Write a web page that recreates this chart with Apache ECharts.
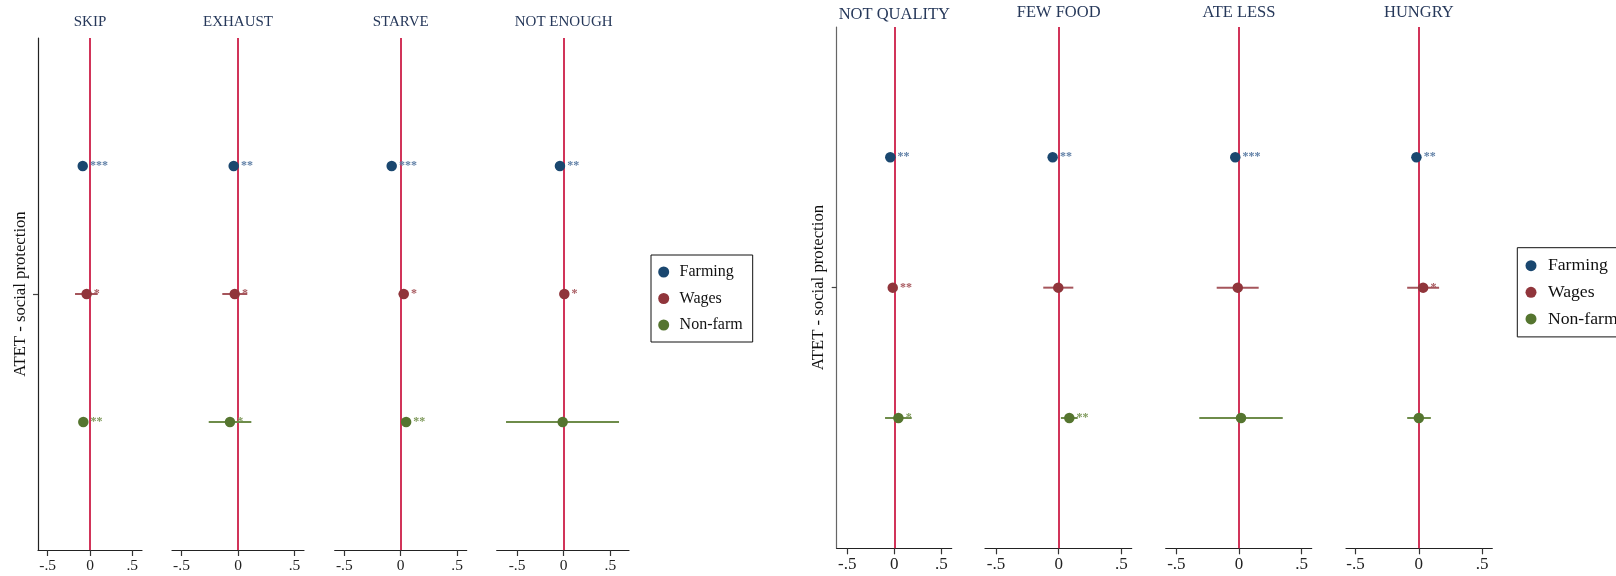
<!DOCTYPE html>
<html><head><meta charset="utf-8">
<script src="https://cdn.jsdelivr.net/npm/echarts@6/dist/echarts.min.js"></script>
<style>html,body{margin:0;padding:0;background:#fff}#c{width:1616px;height:576px}</style>
</head><body><div id="c"></div>
<script>
// ---------- data ----------
const panels = ['SKIP','EXHAUST','STARVE','NOT ENOUGH','NOT QUALITY','FEW FOOD','ATE LESS','HUNGRY'];
const groups = ['Farming','Wages','Non-farm'];
const groupPos = [3, 2, 1];
const farmingEst   = [-0.086,-0.038,-0.080,-0.040,-0.043,-0.048,-0.030,-0.019];
const farmingLo    = [-0.110,-0.062,-0.104,-0.064,-0.066,-0.070,-0.052,-0.040];
const farmingHi    = [-0.062,-0.014,-0.056,-0.016,-0.020,-0.026,-0.008, 0.002];
const farmingStars = ['***','**','***','**','**','**','***','**'];
const wagesEst     = [-0.040,-0.029, 0.027, 0.007,-0.017,-0.003,-0.010, 0.034];
const wagesLo      = [-0.177,-0.139,-0.018,-0.015,-0.040,-0.123,-0.178,-0.092];
const wagesHi      = [ 0.091, 0.082, 0.065, 0.030, 0.006, 0.117, 0.157, 0.160];
const wagesStars   = ['*','*','*','*','**','','','*'];
const nonfarmEst   = [-0.079,-0.071, 0.048,-0.011, 0.043, 0.085, 0.016, 0.000];
const nonfarmLo    = [-0.100,-0.259, 0.025,-0.618,-0.099, 0.018,-0.317,-0.092];
const nonfarmHi    = [-0.058, 0.118, 0.072, 0.593, 0.185, 0.152, 0.349, 0.095];
const nonfarmStars = ['**','*','**','','*','**','',''];
const xMin = [-0.615,-0.584,-0.585,-0.718,-0.613,-0.588,-0.585,-0.575];
const xMax = [ 0.615, 0.584, 0.585, 0.700, 0.610, 0.583, 0.580, 0.580];
const xTicks = [-0.5, 0, 0.5];
const xTickLabels = ['-.5','0','.5'];
const refLine = 0;
const yTitle = 'ATET - social protection';

// ---------- styling / layout ----------
const FONT = "'Liberation Serif','Times New Roman',serif";
const markerColors = ['#1a476f','#90353b','#55752f'];
const ciColors     = ['#3d6187','#a5555b','#6e8c4a'];
const starColors   = ['#5f7fa6','#a85a60','#7f9a5c'];
const grids = [
  {left:38,    top:38, width:104,   height:512},
  {left:172,   top:38, width:132,   height:512},
  {left:334.7, top:38, width:132,   height:512},
  {left:496.7, top:38, width:132.3, height:512},
  {left:836.7, top:27, width:115,   height:521.3},
  {left:985,   top:27, width:146.7, height:521.3},
  {left:1165.7,top:27, width:146,   height:521.3},
  {left:1346,  top:27, width:146.3, height:521.3}
];
const est = [farmingEst, wagesEst, nonfarmEst];
const lo = [farmingLo, wagesLo, nonfarmLo];
const hi = [farmingHi, wagesHi, nonfarmHi];
const stars = [farmingStars, wagesStars, nonfarmStars];

const xAxis = [], yAxis = [], series = [], titles = [];
panels.forEach((p, i) => {
  const right = i >= 4;
  const first = i === 0 || i === 4;
  xAxis.push({
    gridIndex: i, type: 'value', min: xMin[i], max: xMax[i],
    axisLine: {show: true, onZero: false, lineStyle: {color: '#222', width: 1.2}},
    axisTick: {show: true, customValues: xTicks, length: 6, lineStyle: {color: '#333', width: 1.2}},
    axisLabel: {show: true, customValues: xTicks, margin: 8,
      formatter: v => xTickLabels[xTicks.indexOf(v)] ?? '',
      fontFamily: FONT, fontSize: right ? 17 : 15.5, color: '#222'},
    splitLine: {show: false}
  });
  yAxis.push({
    gridIndex: i, type: 'value', min: 0, max: 4,
    axisLine: {show: first, onZero: false, lineStyle: {color: right ? '#666' : '#222', width: 1.2}},
    axisTick: {show: first, customValues: [2], length: 5, lineStyle: {color: '#444', width: 1.2}},
    axisLabel: {show: false},
    splitLine: {show: false},
    name: first ? yTitle : '',
    nameLocation: 'middle', nameGap: right ? 9.5 : 8.6,
    nameTextStyle: {fontFamily: FONT, fontSize: 16.7, color: '#111'}
  });
  titles.push({
    text: p, left: grids[i].left + (0 - xMin[i]) / (xMax[i] - xMin[i]) * grids[i].width,
    top: right ? (i === 4 ? 6 : 4) : 14.5, textAlign: 'center', padding: 0,
    textStyle: {fontFamily: FONT, fontSize: right ? 16.5 : 15, fontWeight: 'normal', color: '#26385a'}
  });
  groups.forEach((g, k) => {
    series.push({
      type: 'custom', name: g + ' CI', xAxisIndex: i, yAxisIndex: i, z: 2, silent: true,
      data: [[lo[k][i], hi[k][i], groupPos[k]]],
      encode: {x: [0, 1], y: 2},
      renderItem: (params, api) => {
        const a = api.coord([api.value(0), api.value(2)]);
        const b = api.coord([api.value(1), api.value(2)]);
        return {type: 'line', shape: {x1: a[0], y1: a[1], x2: b[0], y2: b[1]},
          style: {stroke: ciColors[k], lineWidth: 2}};
      }
    });
    const s = {
      type: 'scatter', name: g, xAxisIndex: i, yAxisIndex: i, z: 4,
      symbol: 'circle', symbolSize: 10.5,
      itemStyle: {color: markerColors[k], opacity: 1},
      data: [[est[k][i], groupPos[k], stars[k][i]]],
      label: {show: true, position: 'right', distance: 2,
        formatter: q => q.data[2], fontFamily: FONT, fontSize: 12, fontWeight: 'bold', color: starColors[k]},
      emphasis: {disabled: true}
    };
    if (k === 0) {
      s.markLine = {silent: true, symbol: 'none', z: 1, label: {show: false},
        lineStyle: {color: '#cc1e47', width: 1.8, type: 'solid'},
        data: [{xAxis: refLine}]};
    }
    series.push(s);
  });
});

const legendBase = {orient: 'vertical', icon: 'circle', borderColor: '#111', borderWidth: 1,
  backgroundColor: '#fff', selectedMode: false, data: groups};
const option = {
  animation: false,
  backgroundColor: '#fff',
  title: titles,
  grid: grids,
  xAxis, yAxis, series,
  legend: [
    Object.assign({}, legendBase, {left: 651, top: 255, itemWidth: 21.8, itemHeight: 11, itemGap: 8.5,
      padding: [8, 10, 8, 7.2], textStyle: {fontFamily: FONT, fontSize: 16, color: '#111', lineHeight: 18}}),
    Object.assign({}, legendBase, {left: 1517.3, top: 247.7, itemWidth: 23.8, itemHeight: 11, itemGap: 6.6,
      padding: [8, 10, 8, 8.2], textStyle: {fontFamily: FONT, fontSize: 17.7, color: '#111', lineHeight: 20}})
  ]
};
const chart = echarts.init(document.getElementById('c'));
chart.setOption(option);
</script></body></html>
